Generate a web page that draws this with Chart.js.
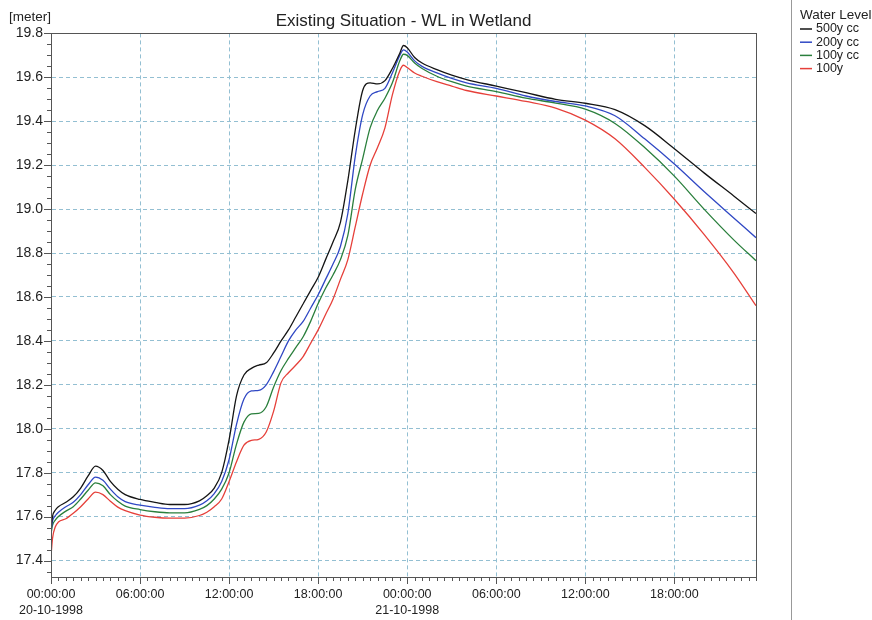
<!DOCTYPE html>
<html>
<head>
<meta charset="utf-8">
<title>Existing Situation - WL in Wetland</title>
<script src="https://cdn.jsdelivr.net/npm/chart.js@4/dist/chart.umd.min.js"></script>
<style>
  html, body { margin: 0; padding: 0; background: #fff; }
  #wrap { width: 872px; height: 620px; }
</style>
</head>
<body>
<div id="wrap"><canvas id="wlChart" width="872" height="620"></canvas></div>
<script>
// hours since 00:00 20-10-1998
const hours = [0, 0.1, 0.3, 0.5, 1, 1.5, 2, 2.5, 3, 3.5, 4, 4.5, 5, 6, 7, 8, 9, 10,
  10.5, 11, 11.5, 12, 12.5, 13, 13.5, 14, 14.5, 15, 15.5, 16, 16.5, 17, 17.5, 18,
  18.5, 19, 19.5, 20, 20.5, 21, 21.5, 22, 22.5, 23, 23.5, 23.75, 24, 24.5, 25, 26,
  27, 28, 30, 32, 34, 36, 38, 40, 42, 44, 46, 47.5];

const wl500cc = [17.54, 17.60, 17.63, 17.645, 17.665, 17.69, 17.73, 17.785, 17.83, 17.81,
  17.76, 17.725, 17.70, 17.678, 17.665, 17.655, 17.655, 17.672, 17.695, 17.73, 17.80,
  17.95, 18.15, 18.245, 18.275, 18.29, 18.30, 18.345, 18.40, 18.45, 18.51, 18.57, 18.63,
  18.69, 18.77, 18.85, 18.94, 19.13, 19.36, 19.54, 19.575, 19.57, 19.585, 19.64, 19.71,
  19.745, 19.735, 19.69, 19.665, 19.635, 19.61, 19.59, 19.56, 19.53, 19.50, 19.482,
  19.453, 19.38, 19.275, 19.165, 19.06, 18.98];

const wl200cc = [17.53, 17.58, 17.605, 17.62, 17.645, 17.665, 17.70, 17.745, 17.78, 17.765,
  17.725, 17.69, 17.668, 17.652, 17.642, 17.636, 17.636, 17.652, 17.672, 17.705, 17.76,
  17.86, 18.02, 18.135, 18.172, 18.175, 18.20, 18.26, 18.33, 18.40, 18.45, 18.49, 18.55,
  18.61, 18.68, 18.75, 18.83, 18.98, 19.24, 19.43, 19.515, 19.535, 19.55, 19.62, 19.70,
  19.725, 19.715, 19.675, 19.65, 19.62, 19.595, 19.575, 19.55, 19.515, 19.49, 19.47,
  19.425, 19.32, 19.205, 19.08, 18.96, 18.87];

const wl100cc = [17.52, 17.56, 17.585, 17.60, 17.625, 17.645, 17.68, 17.72, 17.754, 17.74,
  17.70, 17.67, 17.648, 17.632, 17.622, 17.617, 17.617, 17.633, 17.65, 17.68, 17.725,
  17.80, 17.93, 18.03, 18.068, 18.07, 18.10, 18.19, 18.265, 18.32, 18.37, 18.42, 18.49,
  18.57, 18.64, 18.70, 18.77, 18.88, 19.09, 19.23, 19.37, 19.45, 19.505, 19.575, 19.675,
  19.705, 19.70, 19.665, 19.64, 19.605, 19.58, 19.56, 19.535, 19.505, 19.483, 19.455,
  19.39, 19.28, 19.15, 19.00, 18.86, 18.765];

const wl100 = [17.42, 17.50, 17.555, 17.575, 17.59, 17.615, 17.645, 17.68, 17.711, 17.70,
  17.67, 17.643, 17.627, 17.607, 17.597, 17.593, 17.593, 17.605, 17.62, 17.645, 17.68,
  17.76, 17.85, 17.925, 17.947, 17.952, 17.985, 18.08, 18.21, 18.255, 18.29, 18.33, 18.39,
  18.45, 18.52, 18.59, 18.68, 18.77, 18.92, 19.07, 19.20, 19.28, 19.37, 19.52, 19.63,
  19.655, 19.645, 19.62, 19.605, 19.58, 19.56, 19.54, 19.515, 19.49, 19.46, 19.405,
  19.32, 19.19, 19.045, 18.885, 18.71, 18.56];

const seriesNames = ["500y cc", "200y cc", "100y cc", "100y"];
const yLabelValues = [17.4, 17.6, 17.8, 18.0, 18.2, 18.4, 18.6, 18.8, 19.0, 19.2, 19.4, 19.6, 19.8];
const xLabelHours = [0, 6, 12, 18, 24, 30, 36, 42];
const xLabels = [
  ["00:00:00", "20-10-1998"], ["06:00:00"], ["12:00:00"], ["18:00:00"],
  ["00:00:00", "21-10-1998"], ["06:00:00"], ["12:00:00"], ["18:00:00"],
];

const FONT = "'Liberation Sans', Arial, sans-serif";
const gridColor = "#93bfd2";
const axisColor = "#555";

const pts = (vals) => hours.map((h, i) => ({ x: h, y: vals[i] }));

// major + minor tick lists (minor every 0.5 h and 0.05 m)
const xTickList = [];
for (let i = 0; i <= 95; i++) {
  const v = i * 0.5;
  xTickList.push({ value: v, major: xLabelHours.includes(v) });
}
const yTickList = [];
for (let i = 0; i <= 49; i++) {
  const v = Math.round((17.35 + i * 0.05) * 100) / 100;
  yTickList.push({ value: v, major: yLabelValues.some((m) => Math.abs(m - v) < 1e-6) });
}

const frameAndTicks = {
  id: "frameAndTicks",
  afterDraw(chart) {
    const { ctx, chartArea: a, scales } = chart;
    ctx.save();
    ctx.strokeStyle = axisColor;
    ctx.lineWidth = 1;
    ctx.strokeRect(Math.round(a.left) + 0.5, Math.round(a.top) + 0.5,
      Math.round(a.right - a.left), Math.round(a.bottom - a.top));
    ctx.beginPath();
    scales.x.ticks.forEach((t) => {
      const px = Math.round(scales.x.getPixelForValue(t.value)) + 0.5;
      ctx.moveTo(px, a.bottom);
      ctx.lineTo(px, a.bottom + (t.major ? 7 : 4));
    });
    scales.y.ticks.forEach((t) => {
      const py = Math.round(scales.y.getPixelForValue(t.value)) + 0.5;
      ctx.moveTo(a.left, py);
      ctx.lineTo(a.left - (t.major ? 7 : 4), py);
    });
    ctx.stroke();

    // unit label
    ctx.fillStyle = "#222";
    ctx.font = "13.5px " + FONT;
    ctx.textBaseline = "middle";
    ctx.textAlign = "left";
    ctx.fillText("[meter]", 9, 17);

    // legend panel
    ctx.strokeStyle = "#999";
    ctx.beginPath();
    ctx.moveTo(791.5, 0);
    ctx.lineTo(791.5, 620);
    ctx.stroke();
    ctx.font = "13.5px " + FONT;
    ctx.fillText("Water Level", 800, 15);
    ctx.font = "12.5px " + FONT;
    chart.data.datasets.forEach((ds, i) => {
      const ly = 29 + i * 13.2;
      ctx.strokeStyle = ds.borderColor;
      ctx.lineWidth = 1.5;
      ctx.beginPath();
      ctx.moveTo(800, ly);
      ctx.lineTo(812, ly);
      ctx.stroke();
      ctx.fillText(ds.label, 816, ly);
    });
    ctx.restore();
  },
};

const lineDs = (label, vals, color) => ({
  label,
  data: pts(vals),
  borderColor: color,
  backgroundColor: color,
  borderWidth: 1.3,
  pointRadius: 0,
  cubicInterpolationMode: "monotone",
  fill: false,
});

new Chart(document.getElementById("wlChart"), {
  type: "line",
  data: {
    datasets: [
      lineDs(seriesNames[0], wl500cc, "#151515"),
      lineDs(seriesNames[1], wl200cc, "#3048c4"),
      lineDs(seriesNames[2], wl100cc, "#2a7f3c"),
      lineDs(seriesNames[3], wl100, "#e6403a"),
    ],
  },
  options: {
    responsive: false,
    animation: false,
    layout: { padding: { left: 0, right: 116, top: 0, bottom: 0 } },
    plugins: {
      legend: { display: false },
      tooltip: { enabled: false },
      title: {
        display: true,
        text: "Existing Situation - WL in Wetland",
        fullSize: false,
        color: "#222",
        font: { family: FONT, size: 17, weight: "normal" },
        padding: { top: 11, bottom: 2 },
      },
    },
    scales: {
      x: {
        type: "linear",
        min: 0,
        max: 47.5,
        afterBuildTicks: (s) => { s.ticks = xTickList.map((t) => ({ ...t })); },
        afterFit: (s) => { s.height = 43; },
        grid: {
          drawTicks: false,
          color: (c) => (c.tick && c.tick.major ? gridColor : "rgba(0,0,0,0)"),
          lineWidth: 1,
        },
        border: { display: true, color: axisColor, dash: [4, 3] },
        ticks: {
          autoSkip: false,
          maxRotation: 0,
          padding: 9,
          color: "#222",
          font: { family: FONT, size: 12.5, lineHeight: 1.3 },
          callback: (v) => {
            const k = xLabelHours.indexOf(v);
            return k >= 0 ? xLabels[k] : "";
          },
        },
      },
      y: {
        type: "linear",
        min: 17.325,
        max: 19.8,
        afterBuildTicks: (s) => { s.ticks = yTickList.map((t) => ({ ...t })); },
        afterFit: (s) => { s.width = 51; },
        grid: {
          drawTicks: false,
          color: (c) => (c.tick && c.tick.major ? gridColor : "rgba(0,0,0,0)"),
          lineWidth: 1,
        },
        border: { display: true, color: axisColor, dash: [4, 3] },
        ticks: {
          autoSkip: false,
          padding: 8,
          color: "#222",
          font: { family: FONT, size: 14 },
          callback: (v) =>
            yLabelValues.some((m) => Math.abs(m - v) < 1e-6) ? Number(v).toFixed(1) : "",
        },
      },
    },
  },
  plugins: [frameAndTicks],
});
</script>
</body>
</html>
